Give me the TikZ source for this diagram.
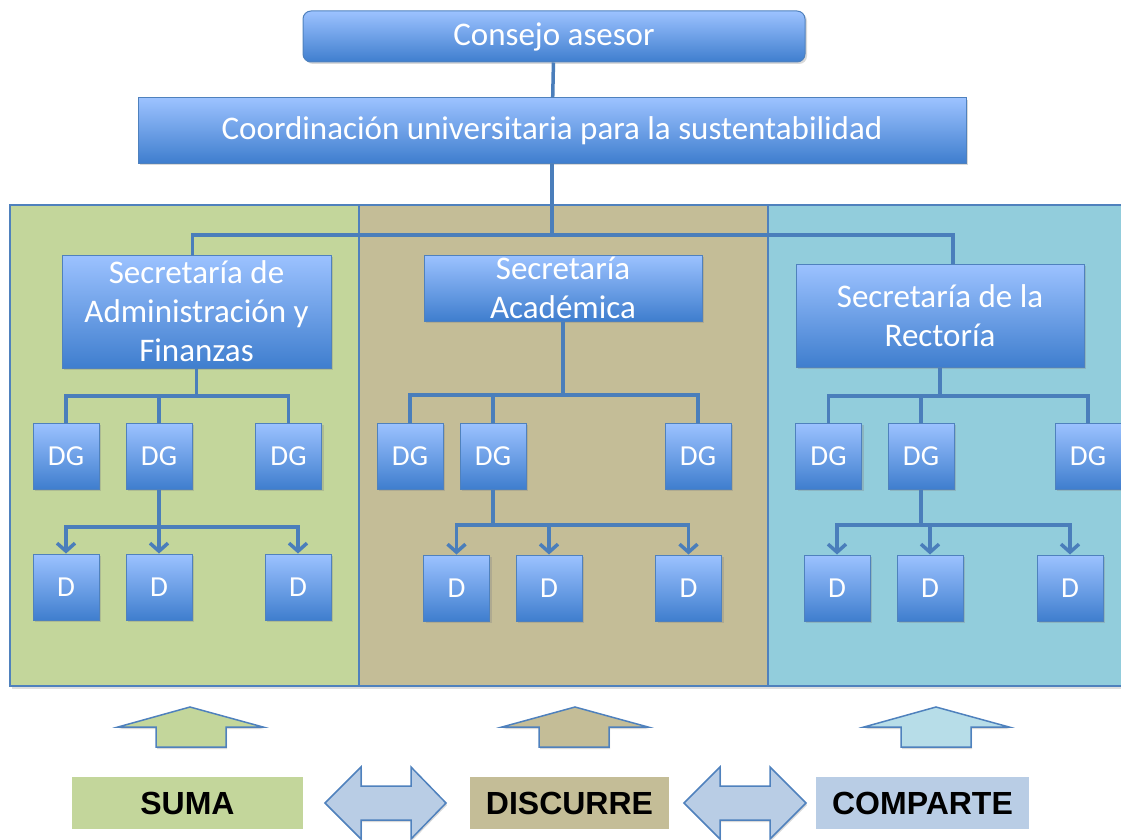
\documentclass[tikz,border=0pt]{standalone}
\usepackage{fontspec}
\setmainfont{Carlito}
\newfontfamily\labelfont{Liberation Sans}
\usetikzlibrary{arrows.meta,shadows}

\definecolor{boxtop}{HTML}{9CC2FF}
\definecolor{boxbot}{HTML}{3F7ECE}
\definecolor{boxline}{HTML}{4F81BD}
\definecolor{connline}{HTML}{4A7EBB}
\definecolor{sumagreen}{HTML}{C3D69B}
\definecolor{discurretan}{HTML}{C4BD97}
\definecolor{compartecyan}{HTML}{92CDDC}
\definecolor{uparrowcyan}{HTML}{B7DDE8}
\definecolor{labelblue}{HTML}{B9CDE5}

\begin{document}
\begin{tikzpicture}[x=1pt,y=-1pt,
  box/.style={draw=boxline, line width=1pt, top color=boxtop, bottom color=boxbot,
    text=white, align=center, inner sep=0pt, font=\fontsize{33}{39}\selectfont,
    drop shadow={opacity=0.3,shadow xshift=2pt,shadow yshift=-2pt}},
  unitbox/.style={box, minimum width=66pt, minimum height=66pt, font=\fontsize{29}{34}\selectfont},
  conn/.style={draw=connline, line width=3.5pt},
  tip/.style={-{Straight Barb[length=8pt,width=18pt]}},
  panel/.style={draw=boxline, line width=1.5pt,
    drop shadow={opacity=0.25,shadow xshift=2pt,shadow yshift=-3pt}},
  bigarrow/.style={draw=boxline, line width=1.5pt,
    drop shadow={opacity=0.3,shadow xshift=1pt,shadow yshift=-2pt}},
  tag/.style={inner sep=0pt, minimum height=52pt, text=black,
    font=\labelfont\bfseries\fontsize{32}{32}\selectfont}]

  \useasboundingbox (0,0) rectangle (1121,840);

% panels
  \path[panel, fill=sumagreen]    (10,205)  rectangle (359,686);
  \path[panel, fill=discurretan]  (359,205) rectangle (768,686);
  \path[panel, fill=compartecyan] (768,205) rectangle (1130,686);

% top of the chart
  \node[box, rounded corners=8pt, minimum width=502pt, minimum height=51pt] (consejo) at (554,36.5) {Consejo asesor};
  \node[box, minimum width=828pt, minimum height=65pt] (coord) at (552,130.5) {Coordinación universitaria para la sustentabilidad};

% secretarias
  \node[box, minimum width=269pt, minimum height=113pt] (secA) at (196.5,311.5) {Secretaría de\\Administración y\\Finanzas};
  \node[box, minimum width=278pt, minimum height=66pt]  (secB) at (563,288)     {Secretaría\\Académica};
  \node[box, minimum width=288pt, minimum height=103pt] (secC) at (940,315.5)   {Secretaría de la\\Rectoría};

% direcciones generales
  \node[unitbox] (dga1) at (66,456)   {DG};
  \node[unitbox] (dga2) at (159,456)  {DG};
  \node[unitbox] (dga3) at (288.5,456) {DG};
  \node[unitbox] (dgb1) at (410,456)  {DG};
  \node[unitbox] (dgb2) at (493,456)  {DG};
  \node[unitbox] (dgb3) at (698,456)  {DG};
  \node[unitbox] (dgc1) at (828.5,456) {DG};
  \node[unitbox] (dgc2) at (921,456)  {DG};
  \node[unitbox] (dgc3) at (1088,456) {DG};

% direcciones
  \node[unitbox] (da1) at (66,587)    {D};
  \node[unitbox] (da2) at (159,587)   {D};
  \node[unitbox] (da3) at (298,587)   {D};
  \node[unitbox] (db1) at (456.5,588) {D};
  \node[unitbox] (db2) at (549,588)   {D};
  \node[unitbox] (db3) at (688.5,588) {D};
  \node[unitbox] (dc1) at (837,588)   {D};
  \node[unitbox] (dc2) at (930,588)   {D};
  \node[unitbox] (dc3) at (1070,588)  {D};

% junctions
  \coordinate (jtop) at (552,235);
  \coordinate (ja) at (196.5,396);
  \coordinate (jb) at (563,395);
  \coordinate (jc) at (940,396);
  \coordinate (ka) at (159,527);
  \coordinate (kb) at (493,525);
  \coordinate (kc) at (921,525);

% connectors, upper levels
  \draw[conn] (consejo) -- (coord);
  \draw[conn] (coord.south) -- (jtop);
  \draw[conn] ([xshift=-4pt]secA.north) |- (jtop) -| ([xshift=13pt]secC.north);

% connectors to the DG boxes
  \draw[conn] (secA.south) -- (ja);
  \draw[conn] (dga1.north) |- (ja) -| (dga3.north);
  \draw[conn] (dga2.north) -- (dga2.north |- ja);
  \draw[conn] (secB.south) -- (jb);
  \draw[conn] (dgb1.north) |- (jb) -| (dgb3.north);
  \draw[conn] (dgb2.north) -- (dgb2.north |- jb);
  \draw[conn] (secC.south) -- (jc);
  \draw[conn] (dgc1.north) |- (jc) -| (dgc3.north);
  \draw[conn] (dgc2.north) -- (dgc2.north |- jc);

% connectors to the D boxes
  \draw[conn] (dga2.south) -- (ka);
  \draw[conn,tip] (ka) -| (da1.north);
  \draw[conn,tip] (ka) -| (da3.north);
  \draw[conn,tip] (ka -| da2.north) -- (da2.north);
  \draw[conn] (dgb2.south) -- (kb);
  \draw[conn,tip] (kb) -| (db1.north);
  \draw[conn,tip] (kb) -| (db3.north);
  \draw[conn,tip] (kb -| db2.north) -- (db2.north);
  \draw[conn] (dgc2.south) -- (kc);
  \draw[conn,tip] (kc) -| (dc1.north);
  \draw[conn,tip] (kc) -| (dc3.north);
  \draw[conn,tip] (kc -| dc2.north) -- (dc2.north);

% up arrows
  \path[bigarrow, fill=sumagreen]   (190,707) -- (263,727) -- (226,727) -- (226,747) -- (156,747) -- (156,727) -- (118,727) -- cycle;
  \path[bigarrow, fill=discurretan] (575,707) -- (648,727) -- (609,727) -- (609,747) -- (539,747) -- (539,727) -- (502,727) -- cycle;
  \path[bigarrow, fill=uparrowcyan] (936,707) -- (1009,727) -- (971,727) -- (971,747) -- (901,747) -- (901,727) -- (864,727) -- cycle;

% double arrows
  \path[bigarrow, fill=labelblue] (325,803) -- (361,767) -- (361,786) -- (411,786) -- (411,767) -- (446,803)
     -- (411,839) -- (411,820) -- (361,820) -- (361,839) -- cycle;
  \path[bigarrow, fill=labelblue] (684,803) -- (720,767) -- (720,786) -- (770,786) -- (770,767) -- (806,803)
     -- (770,839) -- (770,820) -- (720,820) -- (720,839) -- cycle;

% labels
  \node[tag, fill=sumagreen,   minimum width=231pt] (suma)     at (187.5,803) {SUMA};
  \node[tag, fill=discurretan, minimum width=199pt] (discurre) at (569.5,803) {DISCURRE};
  \node[tag, fill=labelblue,   minimum width=213pt] (comparte) at (922.5,803) {COMPARTE};

\end{tikzpicture}
\end{document}
